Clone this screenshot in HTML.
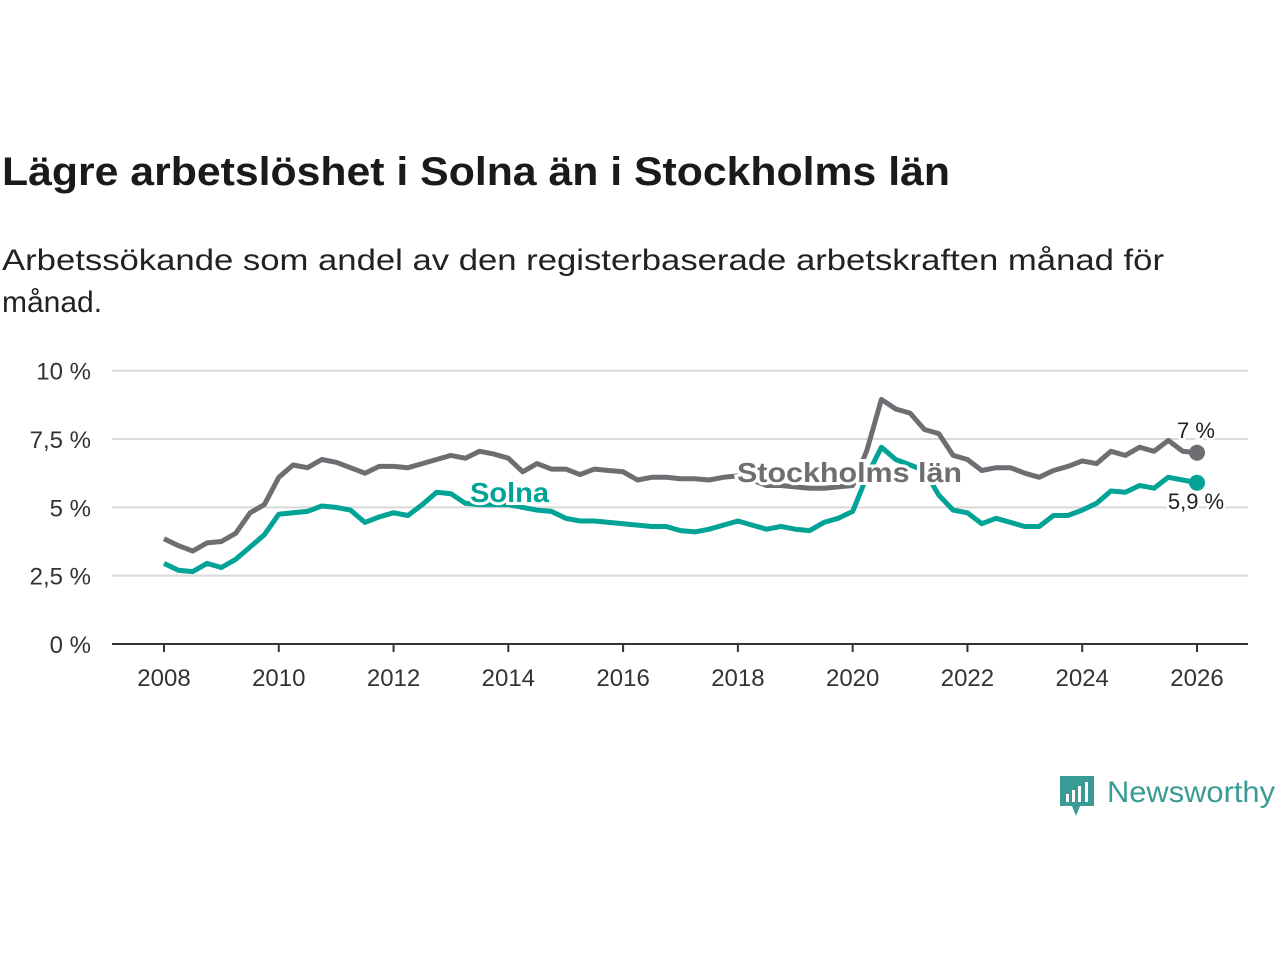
<!DOCTYPE html>
<html><head><meta charset="utf-8"><style>
html,body{margin:0;padding:0;background:#fff;}
svg{display:block;font-family:"Liberation Sans","DejaVu Sans",sans-serif;}
</style></head><body>
<svg id="chart" width="1280" height="960" viewBox="0 0 1280 960">
<text x="2" y="185" font-size="40" font-weight="bold" fill="#1a1a1a" textLength="948" lengthAdjust="spacingAndGlyphs">Lägre arbetslöshet i Solna än i Stockholms län</text>
<text x="2" y="270" font-size="30" fill="#222" textLength="1162" lengthAdjust="spacingAndGlyphs">Arbetssökande som andel av den registerbaserade arbetskraften månad för</text>
<text x="2" y="312" font-size="30" fill="#222">månad.</text>
<g id="grid"></g><g id="xaxis"></g><g id="lines"></g>
<g>
<path d="M1060 776 h34 v30 h-14 l-4 10 l-4 -10 h-12 z" fill="#3a9b95"/>
<rect x="1066" y="794" width="3" height="8" fill="#fff"/><rect x="1072" y="790" width="3" height="12" fill="#fff"/><rect x="1078" y="786" width="3" height="16" fill="#fff"/><rect x="1085" y="782" width="3" height="20" fill="#fff"/>
<text x="1107" y="802" font-size="30" fill="#3a9b95" textLength="168" lengthAdjust="spacingAndGlyphs">Newsworthy</text>
</g>
</svg>
<script>
const years=[2008,2010,2012,2014,2016,2018,2020,2022,2024,2026];
const yTicks=[0,2.5,5,7.5,10];
const yTickLabels=["0 %","2,5 %","5 %","7,5 %","10 %"];
const dates=[];for(let i=0;i<=72;i++)dates.push(2008+i/4);
const stockholm=[3.85,3.6,3.4,3.7,3.75,4.05,4.8,5.1,6.1,6.55,6.45,6.75,6.65,6.45,6.25,6.5,6.5,6.45,6.6,6.75,6.9,6.8,7.05,6.95,6.8,6.3,6.6,6.4,6.4,6.2,6.4,6.35,6.3,6.0,6.1,6.1,6.05,6.05,6.0,6.1,6.15,6.0,5.8,5.8,5.75,5.7,5.7,5.75,5.8,7.1,8.95,8.6,8.45,7.85,7.7,6.9,6.75,6.35,6.45,6.45,6.25,6.1,6.35,6.5,6.7,6.6,7.05,6.9,7.2,7.05,7.45,7.05,7.0];
const solna=[2.95,2.7,2.65,2.95,2.8,3.1,3.55,4.0,4.75,4.8,4.85,5.05,5.0,4.9,4.45,4.65,4.8,4.7,5.1,5.55,5.5,5.15,5.1,5.1,5.1,5.0,4.9,4.85,4.6,4.5,4.5,4.45,4.4,4.35,4.3,4.3,4.15,4.1,4.2,4.35,4.5,4.35,4.2,4.3,4.2,4.15,4.45,4.6,4.85,6.15,7.2,6.75,6.55,6.35,5.45,4.9,4.8,4.4,4.6,4.45,4.3,4.3,4.7,4.7,4.9,5.15,5.6,5.55,5.8,5.7,6.1,6.0,5.9];
const NS="http://www.w3.org/2000/svg";
const X=d=>164+(d-2008)*(1197-164)/18;
const Y=v=>644-v*27.33;
function mk(t,a,p){const e=document.createElementNS(NS,t);for(const k in a)e.setAttribute(k,a[k]);p.appendChild(e);return e;}
const grid=document.getElementById('grid');
yTicks.forEach((v,i)=>{
 if(v>0){const l=mk('line',{x1:112,x2:1248,y1:Y(v),y2:Y(v),stroke:'#d9d9d9','stroke-width':2},grid);
 
 }
 const t=mk('text',{x:91,y:Y(v)+9,'font-size':24,fill:'#333','text-anchor':'end'},grid);t.textContent=yTickLabels[i];
 
 
});
const xa=document.getElementById('xaxis');
const ax=mk('line',{x1:112,x2:1248,y1:644,y2:644,stroke:'#333','stroke-width':2},xa);


years.forEach(y=>{
 mk('line',{x1:X(y),x2:X(y),y1:644,y2:652,stroke:'#333','stroke-width':2},xa);
 const t=mk('text',{x:X(y),y:686,'font-size':24,fill:'#333','text-anchor':'middle'},xa);t.textContent=y;
 
 
});
const L=document.getElementById('lines');
function line(data,col,name){
 const d=data.map((v,i)=>(i?'L':'M')+X(dates[i]).toFixed(1)+' '+Y(v).toFixed(1)).join(' ');
 const p=mk('path',{d:d,fill:'none',stroke:col,'stroke-width':5,'stroke-linejoin':'round'},L);
 
 
 const n=data.length-1;
 const c=mk('circle',{cx:X(dates[n]),cy:Y(data[n]),r:8,fill:col},L);
 
 
}
line(stockholm,'#6e6d72','stockholm-line');
line(solna,'#00a396','solna-line');
function lab(x,y,txt,col,name,size,bold,anchor,len){
 const a={x:x,y:y,'font-size':size,fill:col,'font-weight':bold?'bold':'normal','text-anchor':anchor||'start',stroke:'#fff','stroke-width':bold?6:5,'paint-order':'stroke'};
 if(len){a.textLength=len;a.lengthAdjust='spacingAndGlyphs';}
 const t=mk('text',a,L);
 t.textContent=txt;
 
 
}
lab(737,482,'Stockholms län','#6e6d72','stockholm-label',28,true,'start',225);
lab(470,502,'Solna','#00a396','solna-label',28,true,'start',79);
lab(1196,438,'7 %','#222','stockholm-end-value',22,false,'middle');
lab(1196,509,'5,9 %','#222','solna-end-value',22,false,'middle');
</script>
</body></html>
